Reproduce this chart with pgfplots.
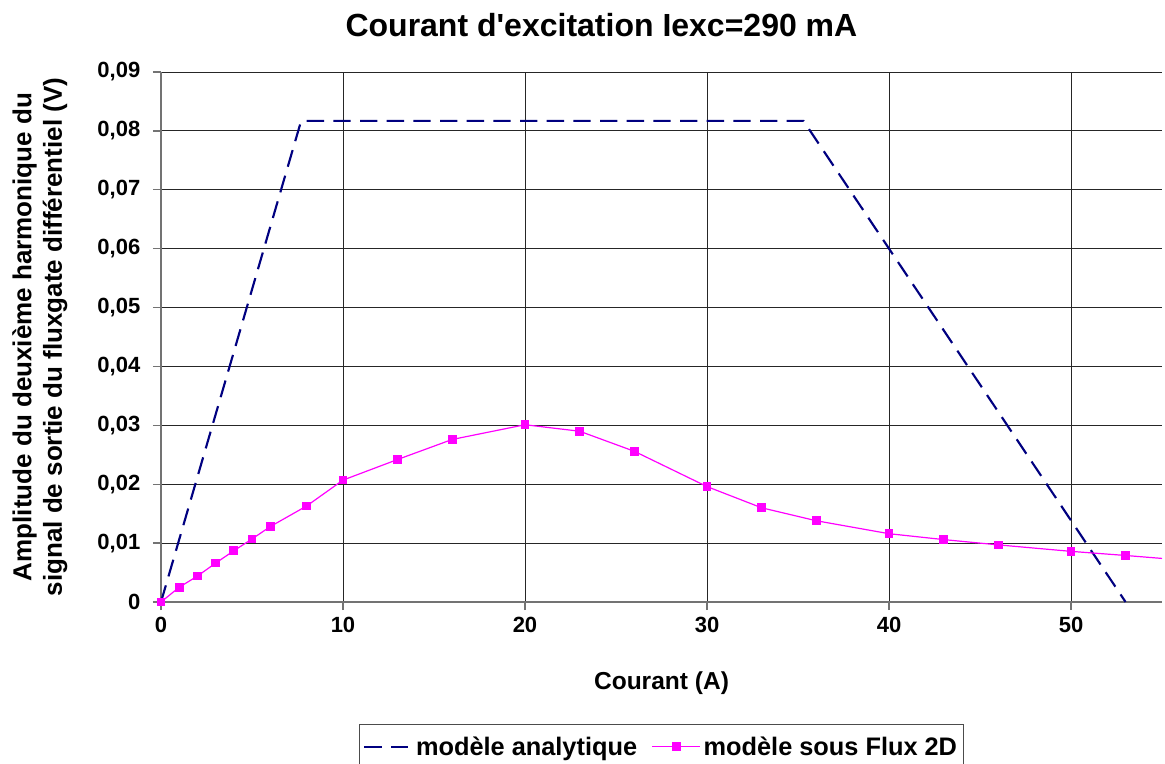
\documentclass[border=0pt]{standalone}
\usepackage{fontspec}
\setmainfont{Liberation Sans}[Ligatures=TeXOff]
\usepackage{pgfplots}
\pgfplotsset{compat=1.18}
\begin{document}
\begin{tikzpicture}[x=0.75pt,y=0.75pt]
\begin{axis}[name=ax,
  scale only axis, width=750.75pt, height=397.5pt,
  xmin=0, xmax=55, ymin=0, ymax=0.09,
  scaled y ticks=false,
  axis lines*=left,
  axis line style={line width=2pt, draw=black!55},
  xtick={0,10,20,30,40,50},
  ytick={0,0.01,0.02,0.03,0.04,0.05,0.06,0.07,0.08,0.09},
  yticklabels={0,{0,01},{0,02},{0,03},{0,04},{0,05},{0,06},{0,07},{0,08},{0,09}},
  xticklabels={0,10,20,30,40,50},
  tick align=outside, major tick length=6pt,
  tick style={line width=1pt, draw=black!55},
  grid=major, grid style={line width=0.7pt, draw=black!85},
  tick label style={font=\fontsize{16.5}{19}\selectfont\bfseries},
  xticklabel style={yshift=-2pt},
  yticklabel style={xshift=-6pt},
  /pgf/number format/assume math mode=true,
  title={Courant d'excitation Iexc=290 mA},
  title style={font=\fontsize{24}{28}\selectfont\bfseries, at={(axis description cs:0.44,1.074)}, anchor=center},
  xlabel={Courant (A)},
  xlabel style={font=\fontsize{18.4}{21}\selectfont\bfseries, at={(axis description cs:0.5,-0.153)}, anchor=center},
  ylabel={Amplitude du deuxième harmonique du\\signal de sortie du fluxgate différentiel (V)},
  ylabel style={font=\fontsize{19.5}{23}\selectfont\bfseries, align=center, at={(axis description cs:-0.121,0.5)}, anchor=center, rotate=0},
  legend columns=2,
  legend style={at={(axis description cs:0.5,-0.23)}, anchor=north, draw=black!70, line width=0.8pt,
    font=\fontsize{19}{22}\selectfont\bfseries, inner xsep=3pt, inner ysep=7pt,
    /tikz/every even column/.append style={column sep=9pt}},
  legend image code/.code={\draw[mark repeat=2,mark phase=2,#1] plot coordinates {(0pt,0pt) (18pt,0pt) (36pt,0pt)};},
]
\addplot[color={rgb,255:red,0;green,0;blue,128}, line width=1.6pt, dash pattern=on 13pt off 7pt, mark=none]
  coordinates {(0,0) (7.7,0.0817) (35.3,0.0817) (53,0)};
\addlegendentry{modèle analytique}
\addplot[color={rgb,255:red,255;green,0;blue,255}, line width=0.9pt, mark=square*, mark size=2.8pt,
  mark options={solid}]
  coordinates {(0,0) (1,0.0025) (2,0.0044) (3,0.0066) (4,0.0087) (5,0.0107) (6,0.0128) (8,0.0163)
  (10,0.0207) (13,0.0242) (16,0.0276) (20,0.0301) (23,0.0290) (26,0.0256) (30,0.0196)
  (33,0.0160) (36,0.0138) (40,0.0116) (43,0.0106) (46,0.0097) (50,0.0086) (53,0.0079)};
\addlegendentry{modèle sous Flux 2D}
\addplot[forget plot, color={rgb,255:red,255;green,0;blue,255}, line width=0.9pt, mark=none]
  coordinates {(53,0.0079) (55,0.0074)};
\end{axis}
\pgfresetboundingbox
\path (ax.south west) ++(-161,-161) coordinate (bl);
\path (ax.north east) ++(3,72) coordinate (tr);
\useasboundingbox (bl) rectangle (tr);
\end{tikzpicture}
\end{document}
